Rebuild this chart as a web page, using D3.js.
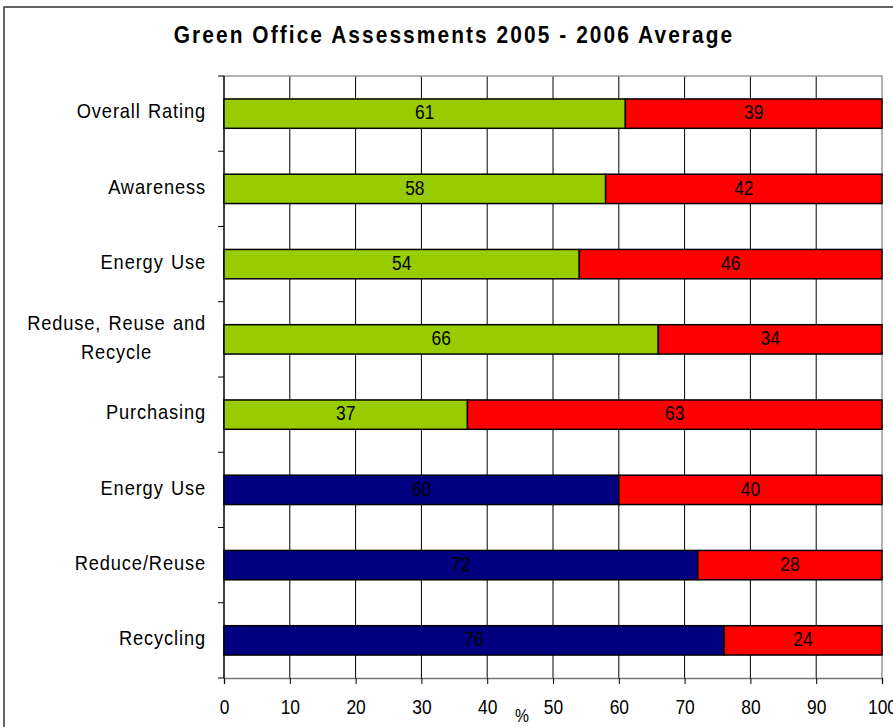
<!DOCTYPE html>
<html>
<head>
<meta charset="utf-8">
<script src="https://d3js.org/d3.v7.min.js"></script>
<style>
  body { margin: 0; background: #fff; }
  text { font-family: "Liberation Sans", Arial, sans-serif; fill: #000; }
</style>
</head>
<body>
<div id="chart"></div>
<script>
// chart data
const categories = ["Overall Rating", "Awareness", "Energy Use", "Reduse, Reuse and|Recycle",
  "Purchasing", "Energy Use", "Reduce/Reuse", "Recycling"];
const yesValues = [61, 58, 54, 66, 37, 60, 72, 76];
const noValues = [39, 42, 46, 34, 63, 40, 28, 24];
const firstColors = ["#99CC00", "#99CC00", "#99CC00", "#99CC00", "#99CC00", "#000080", "#000080", "#000080"];
const xTicks = [0, 10, 20, 30, 40, 50, 60, 70, 80, 90, 100];

const width = 893, height = 727;
const margin = { top: 76, left: 224, right: 11, bottom: 49 };
const sx = 0.87; // text in the original is a bit squeezed sideways

const svg = d3.select("#chart").append("svg")
  .attr("width", width)
  .attr("height", height);

const place = (px, py) => `translate(${px},${py}) scale(${sx},1)`;

// outer chart border (runs off the picture right and bottom)
svg.append("rect")
  .attr("x", 4).attr("y", 7)
  .attr("width", 950).attr("height", 800)
  .attr("fill", "none")
  .attr("stroke", "#333")
  .attr("stroke-width", 1.5);

svg.append("text")
  .attr("transform", place(454, 43))
  .attr("text-anchor", "middle")
  .style("font-size", "24px")
  .style("font-weight", "bold")
  .style("letter-spacing", "2.4px")
  .text("Green Office Assessments 2005 - 2006 Average");

const x = d3.scaleLinear().domain([0, 100]).range([margin.left, width - margin.right]);
const y = d3.scaleBand().domain(d3.range(categories.length))
  .range([margin.top, height - margin.bottom]).paddingInner(0.61).paddingOuter(0.305);
const yAll = d3.scaleBand().domain(d3.range(categories.length))
  .range([margin.top, height - margin.bottom]);

// vertical grid
svg.append("g").selectAll("line")
  .data(xTicks.slice(1, -1))
  .join("line")
  .attr("x1", d => x(d)).attr("x2", d => x(d))
  .attr("y1", margin.top).attr("y2", height - margin.bottom)
  .attr("stroke", "#000").attr("stroke-width", 1);

// plot frame top / right
svg.append("path")
  .attr("d", `M${x(0)},${margin.top}H${x(100)}V${height - margin.bottom}`)
  .attr("fill", "none").attr("stroke", "#999").attr("stroke-width", 1.5);

// x axis
const xAxis = svg.append("g")
  .attr("transform", `translate(0,${height - margin.bottom})`)
  .call(d3.axisBottom(x).tickValues(xTicks).tickSize(6));
xAxis.select(".domain").attr("stroke", "#777").attr("stroke-width", 1.5);
xAxis.selectAll(".tick line").attr("stroke", "#000");
xAxis.selectAll(".tick text")
  .attr("y", null).attr("dy", null)
  .attr("transform", place(0, 36))
  .style("font-size", "20px")
  .style("font-family", "'Liberation Sans', Arial, sans-serif");

svg.append("text")
  .attr("transform", place(522, 722))
  .attr("text-anchor", "middle")
  .style("font-size", "18px")
  .text("%");

// y axis: ticks on band boundaries
const yTickVals = d3.range(categories.length + 1).map(i => margin.top + i * yAll.step());
svg.append("g").selectAll("line")
  .data(yTickVals)
  .join("line")
  .attr("x1", margin.left - 6).attr("x2", margin.left)
  .attr("y1", d => d).attr("y2", d => d)
  .attr("stroke", "#000");
svg.append("line")
  .attr("x1", margin.left).attr("x2", margin.left)
  .attr("y1", margin.top).attr("y2", height - margin.bottom)
  .attr("stroke", "#000").attr("stroke-width", 1.5);

// category labels, right edge at 206, wrapped lines centred on each other
const labels = svg.append("g").selectAll("text")
  .data(categories)
  .join("text")
  .attr("text-anchor", "middle")
  .style("font-size", "21px")
  .style("letter-spacing", "1px")
  .style("word-spacing", "1.5px");
labels.each(function(d, i) {
  const lines = d.split("|");
  const t = d3.select(this);
  lines.forEach((ln, j) => {
    t.append("tspan")
      .attr("x", 0)
      .attr("y", (j - (lines.length - 1) / 2) * 29)
      .attr("dy", "0.35em")
      .text(ln);
  });
  const w = this.getBBox().width;
  const cy = yAll(i) + yAll.bandwidth() / 2 - 2.5;
  t.attr("transform", place(206 - w * sx / 2, cy));
});

// bars
const rows = svg.append("g").selectAll("g")
  .data(categories.map((c, i) => i))
  .join("g");

rows.append("rect")
  .attr("x", x(0))
  .attr("y", i => y(i))
  .attr("width", i => x(yesValues[i]) - x(0))
  .attr("height", y.bandwidth())
  .attr("fill", i => firstColors[i])
  .attr("stroke", "#000").attr("stroke-width", 1.5);

rows.append("rect")
  .attr("x", i => x(yesValues[i]))
  .attr("y", i => y(i))
  .attr("width", i => x(yesValues[i] + noValues[i]) - x(yesValues[i]))
  .attr("height", y.bandwidth())
  .attr("fill", "#FF0000")
  .attr("stroke", "#000").attr("stroke-width", 1.5);

rows.append("text")
  .attr("transform", i => place(x(yesValues[i] / 2), y(i) + y.bandwidth() / 2 - 1.5))
  .attr("dy", "0.36em")
  .attr("text-anchor", "middle")
  .style("font-size", "20px")
  .text(i => yesValues[i]);

rows.append("text")
  .attr("transform", i => place(x(yesValues[i] + noValues[i] / 2), y(i) + y.bandwidth() / 2 - 1.5))
  .attr("dy", "0.36em")
  .attr("text-anchor", "middle")
  .style("font-size", "20px")
  .text(i => noValues[i]);
</script>
</body>
</html>
